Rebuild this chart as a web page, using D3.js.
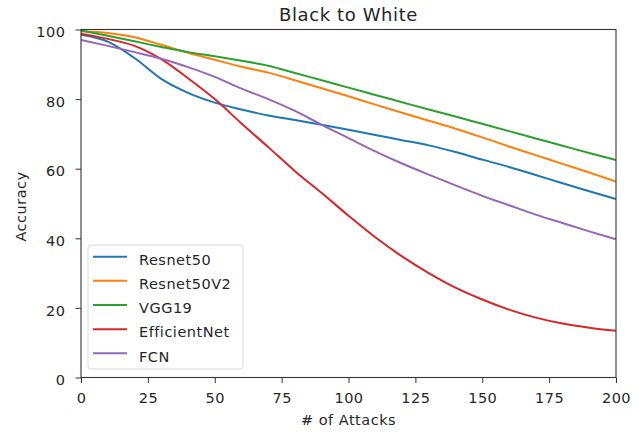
<!DOCTYPE html>
<html><head><meta charset="utf-8">
<script src="https://cdn.jsdelivr.net/npm/d3@7"></script>
<style>body{margin:0;background:#fff}svg{display:block}text{font-family:"DejaVu Sans",sans-serif;fill:#262626}</style>
</head><body>
<svg id="c" width="639" height="432"></svg>
<script>
const attacks = [0,10,20,30,40,50,60,70,80,90,100,110,120,130,140,150,160,170,180,190,200];
const resnet50    = [98.5,96.5,91.8,85.8,81.8,79.0,77.0,75.3,74.0,72.6,71.2,69.7,68.2,66.7,64.8,62.6,60.5,58.2,55.8,53.5,51.3];
const resnet50v2  = [99.5,99.0,97.8,95.6,93.3,91.3,89.3,87.6,85.4,83.1,80.8,78.4,76.1,73.8,71.5,69.0,66.4,63.9,61.4,58.9,56.3];
const vgg19       = [99.7,98.2,96.6,95.0,93.5,92.3,91.0,89.6,87.5,85.4,83.3,81.2,79.1,77.0,75.0,72.9,70.8,68.7,66.6,64.5,62.5];
const efficientnet= [98.8,97.3,95.3,91.5,86.0,80.0,73.0,66.2,59.3,53.0,46.5,40.3,34.8,30.0,25.8,22.4,19.5,17.2,15.5,14.3,13.4];
const fcn         = [97.0,95.3,93.5,91.6,89.2,86.4,83.0,80.0,76.6,72.6,68.8,65.0,61.5,58.3,55.2,52.2,49.5,46.8,44.4,42.0,39.7];
const seriesNames = ["Resnet50","Resnet50V2","VGG19","EfficientNet","FCN"];
const seriesValues = [resnet50,resnet50v2,vgg19,efficientnet,fcn];
const colors = ["#1f77b4","#ff7f0e","#2ca02c","#d62728","#9467bd"];
const xTicks = [0,25,50,75,100,125,150,175,200];
const yTicks = [0,20,40,60,80,100];
const title = "Black to White", xLabel = "# of Attacks", yLabel = "Accuracy";

const svg = d3.select("#c");
const L=81, R=616, T=29.5, B=377.5;
const x = d3.scaleLinear().domain([0,200]).range([L,R]);
const y = d3.scaleLinear().domain([0,100]).range([B,T]);
const FS = 14.5, LS = "0.5px";

svg.append("clipPath").attr("id","clp").append("rect").attr("x",L).attr("y",T-2).attr("width",R-L).attr("height",B-T+2);
const line = d3.line().x((d,i)=>x(attacks[i])).y(d=>y(d)).curve(d3.curveMonotoneX);
const plot = svg.append("g");
seriesValues.forEach((s,k)=>{
  plot.append("path").attr("d",line(s)).attr("fill","none").attr("stroke",colors[k]).attr("stroke-width",2).attr("clip-path","url(#clp)");
});

// axes
const xa = svg.append("g").attr("transform",`translate(0,${B})`).call(d3.axisBottom(x).tickValues(xTicks).tickSize(5.5));
const ya = svg.append("g").attr("transform",`translate(${L},0)`).call(d3.axisLeft(y).tickValues(yTicks).tickSize(5.5));
[xa,ya].forEach(a=>{
  a.select(".domain").remove();
  a.selectAll("line").attr("stroke","#333").attr("stroke-width",1);
  a.selectAll("text").attr("font-size",FS).attr("fill","#262626").style("font-family","'DejaVu Sans',sans-serif").style("letter-spacing",LS);
});
xa.selectAll("text").attr("y",25).attr("dy",0);
ya.selectAll("text").attr("x",-15.5).attr("dy","0.5em");

// spines
svg.append("rect").attr("x",L).attr("y",T).attr("width",R-L).attr("height",B-T).attr("fill","none").attr("stroke","#333").attr("stroke-width",1.1);

svg.append("text").attr("x",(L+R)/2).attr("y",20.5).attr("text-anchor","middle").attr("font-size",18).style("letter-spacing","0.6px").text(title);
svg.append("text").attr("x",(L+R)/2).attr("y",425).attr("text-anchor","middle").attr("font-size",FS).style("letter-spacing",LS).text(xLabel);
svg.append("text").attr("transform",`translate(26,${(T+B)/2+3}) rotate(-90)`).attr("text-anchor","middle").attr("font-size",FS).style("letter-spacing",LS).text(yLabel);

// legend
const lg = svg.append("g");
lg.append("rect").attr("x",88).attr("y",245).attr("width",155).attr("height",124).attr("rx",3)
  .attr("fill","#fff").attr("fill-opacity",0.8).attr("stroke","#d9d9d9").attr("stroke-width",1);
seriesNames.forEach((n,k)=>{
  const cy = 256.7 + k*24.15;
  lg.append("line").attr("x1",93).attr("x2",127).attr("y1",cy).attr("y2",cy).attr("stroke",colors[k]).attr("stroke-width",2);
  lg.append("text").attr("x",139).attr("y",cy+8.3).attr("font-size",FS).style("letter-spacing",LS).text(n);
});
</script>
</body></html>
